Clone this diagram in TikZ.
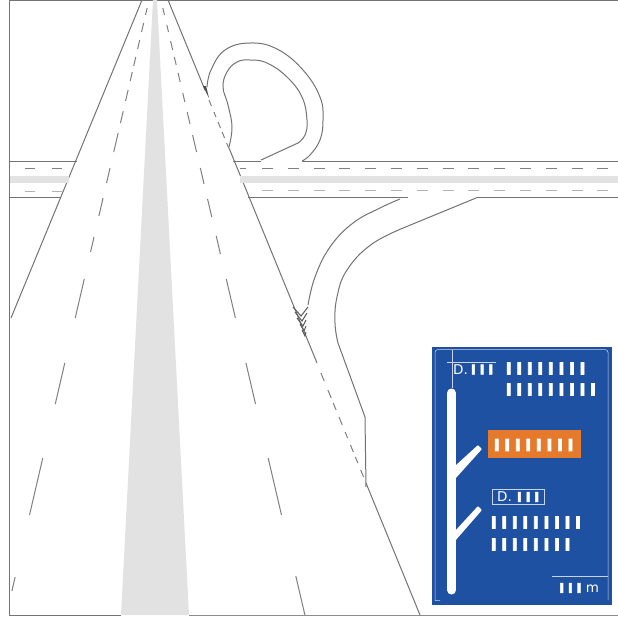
\documentclass[tikz,border=0pt]{standalone}
\usepackage{fontspec}
\setmainfont{DejaVu Sans}
\newfontfamily\barfont[LetterSpace=27]{DejaVu Sans}
\newfontfamily\fatbarfont[LetterSpace=27,FakeBold=4]{DejaVu Sans Bold}
\definecolor{signblue}{HTML}{1F51A3}
\definecolor{signorange}{HTML}{E67A2C}
\definecolor{stripgrey}{HTML}{E2E2E2}
\tikzset{
  roadline/.style={draw=black!55,line width=1pt},
  roaddash/.style={draw=black!50,line width=1pt},
  hairline/.style={draw=white!75!signblue,line width=.5pt},
  barrow/.style={anchor=west,inner sep=0pt,text=white,font=\fatbarfont\fontsize{16.4}{16.4}\selectfont},
  shortrow/.style={anchor=west,inner sep=0pt,text=white,font=\fontsize{13.5}{13.5}\selectfont}
}
\begin{document}
\begin{tikzpicture}[x=1pt,y=-1pt]
\useasboundingbox (0,0) rectangle (618,619);
\fill[white] (0,0) rectangle (618,619);

\draw[black!55,line width=.8pt] (618,.5) -- (9.5,.5) -- (9.5,615.5) -- (121,615.5);
\draw[black!45,line width=.7pt] (189,615.5) -- (618,615.5);

\fill[stripgrey] (153,0) -- (157,0) -- (189,615) -- (121,615) -- cycle;

\draw[roadline] (9.5,161) -- (77,161);
\draw[roadline] (233,161) -- (261,161);
\draw[roadline] (302,161) -- (618,161);
\draw[roadline] (9.5,197.5) -- (60,197.5);
\draw[roadline] (248,197.5) -- (408,197.5);
\draw[roadline] (476,197.5) -- (618,197.5);

\draw[roadline] (142,0) -- (11,318);
\draw[roadline] (168,0) -- (205,90);
\draw[roadline] (229,148) -- (317,363);
\draw[roadline] (366,483) -- (420,615);

\fill[stripgrey] (9.5,176) rectangle (69,183);
\fill[stripgrey] (240,176) rectangle (618,183);

\foreach \xa in {25,52}{
  \draw[roaddash] (\xa,168) -- +(10,0);
  \draw[roaddash,draw=black!30] (\xa,191) -- +(10,0);
}
\draw[roaddash] (240,168) -- (246,168);
\foreach \k in {0,...,13}{
  \draw[roaddash] (262+25.8*\k,168) -- +(11,0);
  \draw[roaddash,draw=black!30] (262+25.8*\k,190.5) -- +(11,0);
}

\foreach \ya/\yb in {8/15,23/32,40/49,57/66,72/81,90/101,111/123,133/152,168/183,198/216,237/252,279/318,363/404,458/515,577/591}
  \draw[roaddash] (149-.232*\ya,\ya) -- (149-.232*\yb,\yb);
\foreach \ya/\yb in {8/15,25/32,41/50,57/65,73/82,93/102,112/124,135/152,168/184,199/217,236/254,279/318,363/404,458/515,576/615}
  \draw[roaddash] (161+.234*\ya,\ya) -- (161+.234*\yb,\yb);
\foreach \ya/\yb in {100/106,112/117,122/128,132/138,143/148,373/381,390/398,403/410,417/425,432/438,445/452,457/463,470/477}
  \draw[roaddash] (168+.41*\ya,\ya) -- (168+.41*\yb,\yb);

\draw[roadline] plot[smooth,tension=.7] coordinates {(207,87) (211,70) (225,50) (250,43) (277,49) (303,70) (320,97) (323,120) (320,140) (310,155) (302,161)};
\draw[roadline] plot[smooth,tension=.7] coordinates {(229,147) (232,127) (228,105) (223,87) (227,72) (237,62) (250,60) (267,63) (287,77) (302,97) (307,120) (305,135) (298,143)};
\draw[roadline] (298,143) -- (261,160);
\draw[roadline] plot[smooth,tension=.7] coordinates {(400,199) (380,208) (353,223) (330,247) (315,277) (308,305)};
\draw[roadline] (476,198) -- (408,226);
\draw[roadline] plot[smooth,tension=.7] coordinates {(408,226) (372,244) (347,270) (337,297) (335,323) (338,343)};
\draw[roadline] (338,343) -- (365,417) -- (366,487);

\fill[black!70] (203,86) -- (206,86) -- (209,98) -- cycle;
\foreach \ya/\yb/\yc/\xa/\xb/\xc in {307/316/307/293/301/308,312/321/313/295/302/307,318/326/320/297/303/306,324/331/326/300/304/306,330/336/332/302/305/306}
  \draw[black!65,line width=1pt] (\xa,\ya) -- (\xb,\yb) -- (\xc,\yc);

\fill[signblue] (431.5,346.5) rectangle (611.5,604.5);
\draw[hairline] (440,600.5) -- (435,600.5) -- (435,354) [rounded corners=3pt] -- (435,349.5) -- (608,349.5) -- (608,600);
\draw[hairline] (447,362) -- (496,362);
\draw[hairline] (452,349.5) -- (452,388);
\draw[hairline] (552,576) -- (608,576);

\draw[white,line width=9pt,line cap=round] (451.5,393) -- (451.5,590);
\fill[white,rounded corners=1pt] (455,466) -- (478,445) -- (482,449) -- (455,479) -- cycle;
\fill[white,rounded corners=1pt] (455,531) -- (478,506) -- (482,510) -- (455,541) -- cycle;

\fill[signorange] (488,430) rectangle (581,457.5);
\draw[hairline] (492.5,489) rectangle (544,504);

\node[shortrow] (topdist) at (453,369.5) {D.\hspace{3pt}{\fatbarfont III}};
\node[barrow] (rowa) at (505.5,368.5) {IIIIIIII};
\node[barrow] (rowb) at (505.5,389.5) {IIIIIIIII};
\node[barrow] (rowc) at (493.5,445) {IIIIIIII};
\node[shortrow] (boxdist) at (497,497) {D.\hspace{5pt}{\fatbarfont III}};
\node[barrow] (rowd) at (490.5,522.5) {IIIIIIIII};
\node[barrow] (rowe) at (490.5,544.5) {IIIIIIII};
\node[shortrow] (bottomdist) at (559,588) {{\fatbarfont III} m};
\end{tikzpicture}
\end{document}
